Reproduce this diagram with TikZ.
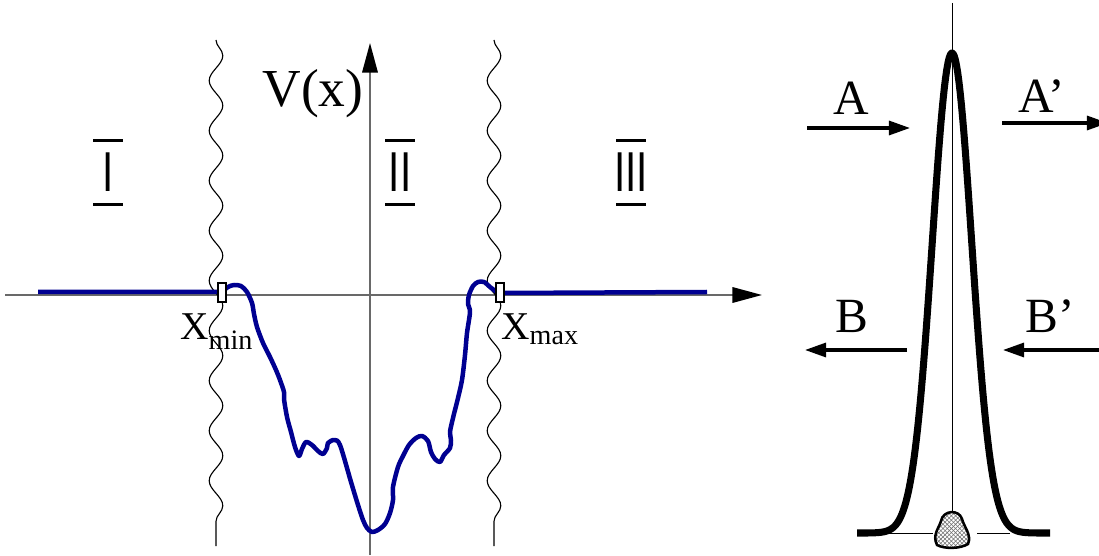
\documentclass[tikz,border=0pt]{standalone}
\usepackage{fontspec}
\setmainfont{Liberation Serif}
\newfontfamily\numfont[FakeStretch=0.72]{Liberation Sans}
\usetikzlibrary{arrows.meta, decorations.pathmorphing, patterns}
\definecolor{wellblue}{RGB}{0,0,145}
\definecolor{axisgray}{RGB}{105,105,105}

\begin{document}
\begin{tikzpicture}[
    x=0.025cm, y=-0.025cm,
    every node/.style={inner sep=0pt},
    axis/.style={axisgray, line width=1.3pt, -{Triangle[length=21pt, width=11pt, color=black]}},
    flux/.style={line width=2.2pt, -{Triangle[length=15pt, width=10pt]}},
    wall/.style={line width=0.8pt, decorate, decoration={snake, segment length=1.25cm, amplitude=0.17cm}},
    numeral/.style={font=\numfont\fontsize{40}{40}\selectfont},
    bar/.style={line width=2.4pt},
    bigtext/.style={font=\fontsize{38}{38}\selectfont},
    fluxtext/.style={font=\fontsize{35}{35}\selectfont},
    limtext/.style={font=\fontsize{28}{28}\selectfont},
    potential/.style={wellblue, line width=3.2pt, line join=round},
    marker/.style={draw=black, fill=white, line width=1.6pt},
    barrier/.style={line width=5pt, line join=round},
]
\useasboundingbox (0,0) rectangle (1099,556);

% ============================================================
% LEFT: potential well V(x) with regions I, II, III
% ============================================================
% Axes
\coordinate (xstart) at (5,295);
\coordinate (xend) at (762,295);
\coordinate (ystart) at (370,555);
\coordinate (yend) at (370,43);
\draw[axis] (xstart) -- (xend);
\draw[axis] (ystart) -- (yend);
\node[bigtext, anchor=base] (vlabel) at (313,107) {V(x)};

% Region boundaries (wavy)
\draw[wall] (216,40) -- (216,546);
\draw[wall] (494,40) -- (494,546);

% Region numerals with bars
\node[numeral] (regI) at (108,172.5) {I};
\node[numeral] (regII) at (400,172.5) {II};
\node[numeral] (regIII) at (631,172.5) {III};
\foreach \r in {regI, regII, regIII} {
    \draw[bar] ([shift={(-15,-32)}]\r.center) -- ++(30,0);
    \draw[bar] ([shift={(-15,32)}]\r.center) -- ++(30,0);
}

% Potential curve
\draw[potential] (38,292) -- plot[smooth, tension=0.5] coordinates {
    (222,292) (228,287) (234,285) (241,286) (247,292) (252,303) (254,314)
    (257,327) (263,343) (270,357) (276,370) (280,380) (284,392) (284,399)
    (287,417) (291,432) (295,447) (299,456) (302,449) (306,442) (312,445)
    (318,451) (323,454) (327,448) (328,443) (334,440) (340,445) (351,482)
    (358,505) (363,520) (367,528) (372,532) (378,530) (385,524) (390,513)
    (393,500) (393,487) (398,467) (403,456) (409,445) (416,438) (422,436)
    (428,441) (431,452) (435,459) (440,462) (444,455) (450,448) (451,440)
    (450,432) (453,418) (458,398) (462,380) (465,355) (467,333) (470,312)
    (468,304) (469,295) (473,286) (478,282) (484,282) (490,287) (497,292)
    (503,293)} -- (707,292);

% Limits x_min, x_max
\draw[marker] (218,283) rectangle (226,302);
\draw[marker] (496,283) rectangle (504,302);
\node[limtext, anchor=base west] (xmin) at (180,340) {X\raisebox{-7pt}{\fontsize{20}{20}\selectfont min}};
\node[limtext, anchor=base west] (xmax) at (501,340) {X\raisebox{-3.5pt}{\fontsize{20}{20}\selectfont max}};

% ============================================================
% RIGHT: barrier with incoming / outgoing waves
% ============================================================
\coordinate (ptop) at (952,3);
\coordinate (pbot) at (952,533);
\draw[line width=0.7pt] (ptop) -- (pbot);
\draw[line width=0.7pt] (880,533) -- (1010,533);
\fill[white] (933,521) rectangle (977,556);
\draw[barrier] plot[domain=857:1050, samples=160]
    (\x, {533-480*exp(-(\x-952)*(\x-952)/776)});

% Hatched object at the foot
\draw[line width=1.8pt, pattern=crosshatch, pattern color=black!55, preaction={fill=white}]
    (937,545) .. controls (932,535) and (939,528) .. (941,521)
    .. controls (943,510) and (959,509) .. (962,519)
    .. controls (964,527) and (972,535) .. (968,544)
    .. controls (960,549) and (944,549) .. cycle;

% Arrows A, A', B, B'
\coordinate (aL) at (807,128);
\coordinate (aR) at (910,128);
\coordinate (apL) at (1002,123);
\coordinate (apR) at (1108,123);
\coordinate (bR) at (907,350);
\coordinate (bL) at (805,350);
\coordinate (bpR) at (1106,350);
\coordinate (bpL) at (1003,350);
\draw[flux] (aL) -- (aR);
\draw[flux] (apL) -- (apR);
\draw[flux] (bR) -- (bL);
\draw[flux] (bpR) -- (bpL);
\node[fluxtext, anchor=base] (labA) at (851,115) {A};
\node[fluxtext, anchor=base] (labAp) at (1042,113) {A’};
\node[fluxtext, anchor=base] (labB) at (852,333) {B};
\node[fluxtext, anchor=base] (labBp) at (1050,333) {B’};

\end{tikzpicture}
\end{document}
